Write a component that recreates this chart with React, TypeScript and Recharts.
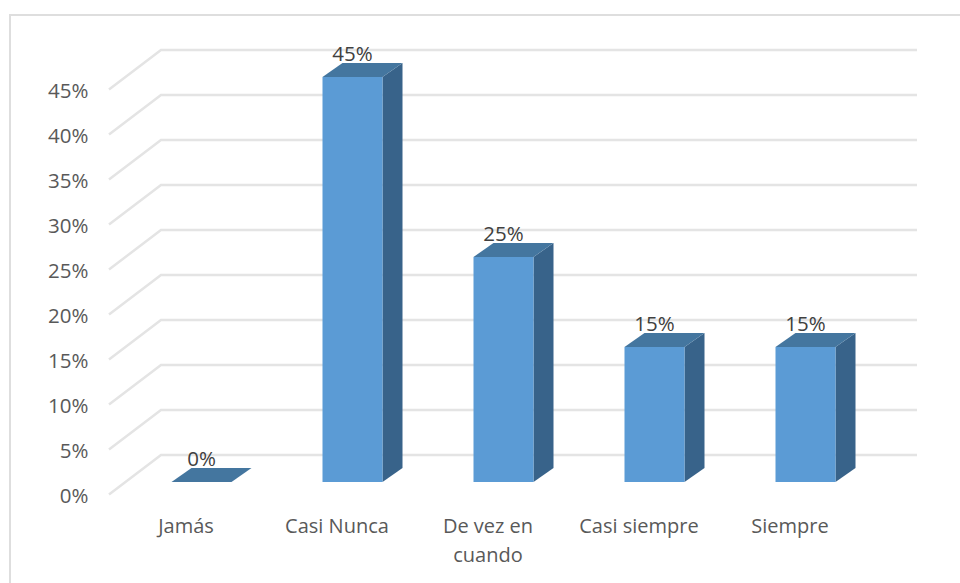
import { BarChart, Bar, XAxis, YAxis, CartesianGrid, LabelList, Text } from 'recharts';

const categories = ['Jamás', 'Casi Nunca', 'De vez en cuando', 'Casi siempre', 'Siempre'];
const percentages = [0, 45, 25, 15, 15];
const yTicks = [0, 5, 10, 15, 20, 25, 30, 35, 40, 45];

const chartData = categories.map((name, i) => ({ name, value: percentages[i] }));

const FONT = '"Open Sans", sans-serif';

// depth of the fake 3D, in px
const BAR_DX = 20;
const BAR_DY = 14;
const WALL_DY = 27;

function Bar3D({ x, y, width, height }: any) {
  const right = x + width;
  const bottom = y + height;
  return (
    <g>
      <path
        d={`M${right} ${y}L${right + BAR_DX} ${y - BAR_DY}L${right + BAR_DX} ${bottom - BAR_DY}L${right} ${bottom}Z`}
        fill="#38638A"
      />
      <path
        d={`M${x} ${y}L${x + BAR_DX} ${y - BAR_DY}L${right + BAR_DX} ${y - BAR_DY}L${right} ${y}Z`}
        fill="#44769F"
      />
      <rect x={x} y={y} width={width} height={height} fill="#5B9BD5" />
    </g>
  );
}

function GridLine({ y1 }: any) {
  const wall = y1 - WALL_DY;
  return (
    <path
      key={y1}
      d={`M109 ${wall + 39.5}L161 ${wall}L917 ${wall}`}
      fill="none"
      stroke="#E4E4E4"
      strokeWidth={2.5}
    />
  );
}

function YTick({ x, y, payload }: any) {
  return (
    <text x={x} y={y + 21} textAnchor="end" fontSize={20.5} fontFamily={FONT} fill="#595959">
      {payload.value}%
    </text>
  );
}

function XTick({ x, y, payload }: any) {
  return (
    <Text
      x={x - 15}
      y={y}
      width={130}
      textAnchor="middle"
      verticalAnchor="start"
      lineHeight={29}
      style={{ fontSize: 20, fontFamily: FONT }}
      fill="#595959"
    >
      {payload.value}
    </Text>
  );
}

function ValueLabel({ x, y, width, value }: any) {
  return (
    <text
      x={x + width / 2}
      y={y - 16}
      textAnchor="middle"
      fontSize={20.5}
      fontFamily={FONT}
      fill="#404040"
    >
      {value}%
    </text>
  );
}

export default function App() {
  return (
    <div style={{ position: 'absolute', left: 0, top: 0, width: 960, height: 583, background: '#fff', overflow: 'hidden' }}>
      <div
        style={{
          position: 'absolute',
          left: 9,
          top: 14,
          width: 951,
          height: 569,
          borderLeft: '2px solid #DEDEDE',
          borderTop: '2px solid #DEDEDE',
          boxSizing: 'border-box',
        }}
      />
      <BarChart
        width={960}
        height={583}
        data={chartData}
        margin={{ top: 77, right: 79.5, bottom: 0, left: 0 }}
        barSize={60}
        style={{ position: 'absolute', left: 0, top: 0 }}
      >
        <CartesianGrid vertical={false} horizontal={GridLine} />
        <XAxis
          dataKey="name"
          axisLine={false}
          tickLine={false}
          interval={0}
          height={101}
          tickMargin={31}
          tick={XTick}
        />
        <YAxis
          domain={[0, 45]}
          ticks={yTicks}
          width={125.5}
          axisLine={false}
          tickLine={false}
          tickMargin={31}
          tick={YTick}
        />
        <Bar dataKey="value" shape={Bar3D} isAnimationActive={false}>
          <LabelList dataKey="value" content={ValueLabel} />
        </Bar>
      </BarChart>
    </div>
  );
}
